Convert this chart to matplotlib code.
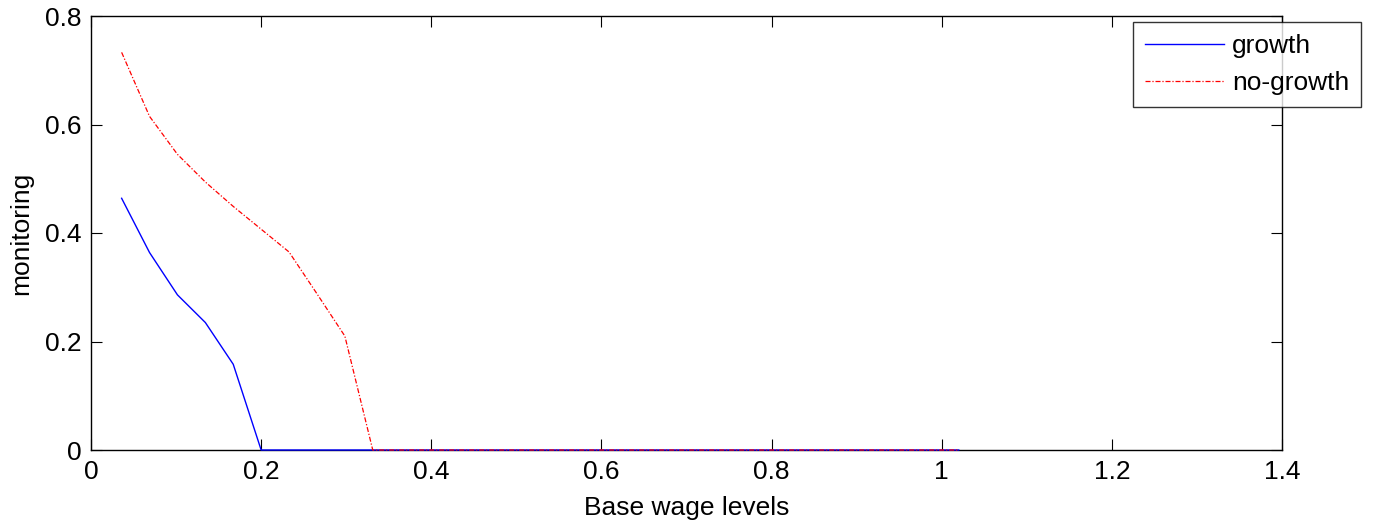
import matplotlib
matplotlib.use("Agg")
import matplotlib.pyplot as plt

plt.rcParams["font.family"] = ["Liberation Sans", "DejaVu Sans"]

# base wage grid
wage = [0.0360, 0.0688, 0.1016, 0.1344, 0.1672, 0.2000, 0.2328, 0.2656,
        0.2984, 0.3312, 0.3640, 0.3968, 0.4296, 0.4624, 0.4952, 0.5280,
        0.5608, 0.5936, 0.6264, 0.6592, 0.6920, 0.7248, 0.7576, 0.7904,
        0.8232, 0.8560, 0.8888, 0.9216, 0.9544, 0.9872, 1.0200]

monitoring_growth = [0.464, 0.364, 0.286, 0.235, 0.158, 0.0, 0.0, 0.0,
                     0.0, 0.0, 0.0, 0.0, 0.0, 0.0, 0.0, 0.0,
                     0.0, 0.0, 0.0, 0.0, 0.0, 0.0, 0.0, 0.0,
                     0.0, 0.0, 0.0, 0.0, 0.0, 0.0, 0.0]

monitoring_nogrowth = [0.733, 0.615, 0.545, 0.494, 0.449, 0.407, 0.365, 0.288,
                       0.210, 0.0, 0.0, 0.0, 0.0, 0.0, 0.0, 0.0,
                       0.0, 0.0, 0.0, 0.0, 0.0, 0.0, 0.0, 0.0,
                       0.0, 0.0, 0.0, 0.0, 0.0, 0.0, 0.0]

xticks = [0, 0.2, 0.4, 0.6, 0.8, 1, 1.2, 1.4]
xticklabels = ["0", "0.2", "0.4", "0.6", "0.8", "1", "1.2", "1.4"]
yticks = [0, 0.2, 0.4, 0.6, 0.8]
yticklabels = ["0", "0.2", "0.4", "0.6", "0.8"]

FS = 19

fig = plt.figure(figsize=(13.74, 5.27), dpi=100)
ax = fig.add_axes([91 / 1374, 1 - 450 / 527, (1282 - 91) / 1374, (450 - 16) / 527])

ax.plot(wage, monitoring_growth, color="blue", lw=1.0, label="growth",
        clip_on=False, zorder=5)
ax.plot(wage, monitoring_nogrowth, color="red", lw=0.9,
        linestyle=(0, (4, 1.5, 1, 1.5)), label="no-growth",
        clip_on=False, zorder=6)

ax.set_xlim(0, 1.4)
ax.set_ylim(0, 0.8)
ax.set_xticks(xticks)
ax.set_xticklabels(xticklabels)
ax.set_yticks(yticks)
ax.set_yticklabels(yticklabels)
ax.tick_params(direction="in", length=8, width=0.8, labelsize=FS,
               top=True, right=True)
ax.tick_params(axis="x", pad=7)
ax.tick_params(axis="y", pad=7)
for sp in ax.spines.values():
    sp.set_linewidth(1.0)

ax.set_xlabel("Base wage levels", fontsize=FS, labelpad=9)
ax.set_ylabel("monitoring", fontsize=FS, labelpad=8)

leg = ax.legend(loc="upper left", bbox_to_anchor=(1133 / 1374, 1 - 22 / 527),
                bbox_transform=fig.transFigure, fontsize=FS, frameon=True,
                fancybox=False, handlelength=3.0, handletextpad=0.3,
                borderpad=0.45, labelspacing=0.5, borderaxespad=0)
leg.get_frame().set_edgecolor("black")
leg.get_frame().set_linewidth(1.0)
leg.set_zorder(10)

fig.savefig("out.png", dpi=100)
